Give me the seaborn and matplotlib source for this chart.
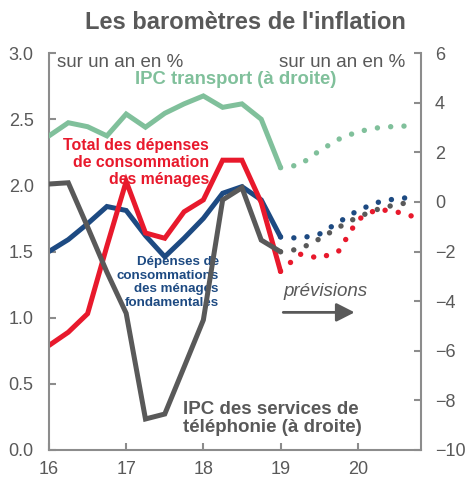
import matplotlib
matplotlib.use("Agg")
import matplotlib.pyplot as plt
import seaborn as sns

# Données trimestrielles (glissement annuel, en %)
trimestres = [16.0, 16.25, 16.5, 16.75, 17.0, 17.25, 17.5, 17.75,
              18.0, 18.25, 18.5, 18.75, 19.0]
trimestres_prev = [19.25, 19.5, 19.75, 20.0, 20.25, 20.5, 20.75]

# Axe de gauche
depenses_totales = [0.79, 0.89, 1.03, 1.54, 2.03, 1.64, 1.60, 1.80,
                    1.89, 2.19, 2.19, 1.87, 1.35]
depenses_totales_prev = [1.48, 1.45, 1.50, 1.74, 1.82, 1.80, 1.76]

depenses_fondamentales = [1.50, 1.59, 1.71, 1.84, 1.81, 1.62, 1.46, 1.60,
                          1.75, 1.94, 1.99, 1.89, 1.61]
depenses_fondamentales_prev = [1.60, 1.63, 1.72, 1.81, 1.87, 1.90, 1.91]

# Axe de droite
ipc_telephonie = [0.72, 0.77, -1.01, -2.83, -4.49, -8.75, -8.55, -6.66,
                  -4.76, 0.08, 0.57, -1.54, -2.01]
ipc_telephonie_prev = [-1.90, -1.50, -1.03, -0.61, -0.31, -0.10, 0.0]

ipc_transport = [2.66, 3.19, 3.03, 2.66, 3.54, 3.01, 3.57, 3.95,
                 4.27, 3.81, 3.95, 3.33, 1.38]
ipc_transport_prev = [1.49, 2.05, 2.52, 2.83, 2.98, 3.05, 3.06]

ticks_x = [16, 17, 18, 19, 20]
ticks_gauche = [0.0, 0.5, 1.0, 1.5, 2.0, 2.5, 3.0]
ticks_droite = [-10, -8, -6, -4, -2, 0, 2, 4, 6]

# Couleurs
rouge = "#E8192C"
bleu = "#1D4A82"
gris = "#595959"
vert = "#80C09B"
gris_axe = "#8C8C8C"

sns.set_theme(style="white")
plt.rcParams["font.family"] = ["Liberation Sans", "DejaVu Sans"]

fig = plt.figure(figsize=(4.65, 4.79), dpi=100)
ax = fig.add_axes([49 / 465, 29 / 479, 372 / 465, 397 / 479])
ax2 = ax.twinx()

lw = 3.6
pointilles = dict(linestyle=(0, (0.01, 2.45)), dash_capstyle="round", linewidth=3.9)


def trace(axe, y_hist, y_prev, couleur):
    sns.lineplot(x=trimestres, y=y_hist, ax=axe, color=couleur, linewidth=lw,
                 solid_capstyle="round", solid_joinstyle="miter")
    sns.lineplot(x=[trimestres[-1]] + trimestres_prev, y=[y_hist[-1]] + y_prev,
                 ax=axe, color=couleur, **pointilles)


trace(ax, depenses_fondamentales, depenses_fondamentales_prev, bleu)
trace(ax, depenses_totales, depenses_totales_prev, rouge)
trace(ax2, ipc_telephonie, ipc_telephonie_prev, gris)
trace(ax2, ipc_transport, ipc_transport_prev, vert)

ax.set_xlim(16, 20.82)
ax.set_ylim(0, 3)
ax2.set_ylim(-10, 6)
ax.set_xticks(ticks_x)
ax.set_yticks(ticks_gauche)
ax2.set_yticks(ticks_droite)
ax.set_xlabel("")
ax.set_ylabel("")
ax2.set_ylabel("")

for s in ["top", "right"]:
    ax.spines[s].set_visible(False)
for s in ["top", "left", "bottom"]:
    ax2.spines[s].set_visible(False)
for s in ["left", "bottom"]:
    ax.spines[s].set_color(gris_axe)
    ax.spines[s].set_linewidth(1.5)
ax2.spines["right"].set_color(gris_axe)
ax2.spines["right"].set_linewidth(1.5)

ax.tick_params(axis="y", left=True, direction="in", length=5, width=1.5,
               color=gris_axe, labelsize=13, labelcolor=gris, pad=11)
ax.tick_params(axis="x", bottom=True, direction="in", length=5, width=1.5,
               color=gris_axe, labelsize=13, labelcolor=gris, pad=8)
ax2.tick_params(axis="y", right=True, direction="in", length=5, width=1.5,
                color=gris_axe, labelsize=13, labelcolor=gris, pad=10)

# Titre et annotations
fig.text(0.527, 0.954, "Les baromètres de l'inflation", ha="center", va="center",
         fontsize=17, fontweight="bold", color=gris)

ax.text(16.10, 2.93, "sur un an en %", ha="left", va="center", fontsize=13.5, color=gris)
ax.text(20.62, 2.93, "sur un an en %", ha="right", va="center", fontsize=13.5, color=gris)
ax.text(18.42, 2.80, "IPC transport (à droite)", ha="center", va="center",
        fontsize=13.3, fontweight="bold", color=vert, zorder=5)
ax.text(18.07, 2.17, "Total des dépenses\nde consommation\ndes ménages", ha="right",
        va="center", fontsize=11.4, fontweight="bold", color=rouge,
        linespacing=1.16, zorder=5)
ax.text(18.20, 1.265, "Dépenses de\nconsommations\ndes ménages\nfondamentales",
        ha="right", va="center", fontsize=9.6, fontweight="bold", color=bleu,
        linespacing=1.16, zorder=5)
ax.text(17.73, 0.239, "IPC des services de\ntéléphonie (à droite)", ha="left",
        va="center", fontsize=13.5, fontweight="bold", color=gris,
        linespacing=1.07, zorder=5)
ax.text(19.04, 1.20, "prévisions", ha="left", va="center", fontsize=13.5,
        style="italic", color=gris)
ax.annotate("", xy=(19.96, 1.04), xytext=(19.035, 1.04),
            arrowprops=dict(arrowstyle="-|>,head_length=0.55,head_width=0.28",
                            color=gris, lw=2, mutation_scale=20,
                            shrinkA=0, shrinkB=0))

fig.savefig("out.png", dpi=100)
